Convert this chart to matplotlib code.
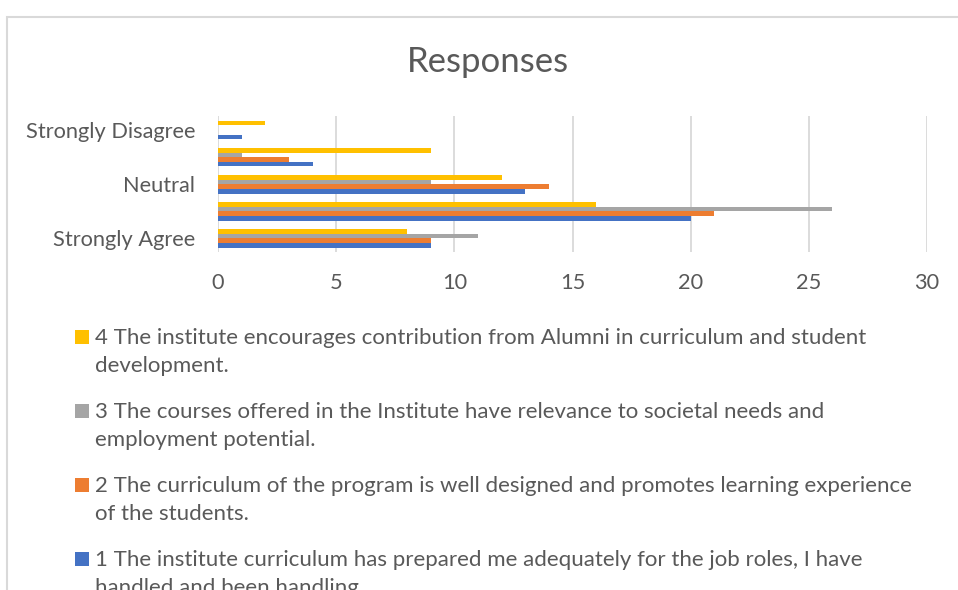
import numpy as np
import matplotlib.pyplot as plt
from matplotlib.patches import Rectangle

plt.rcParams['font.family'] = ['Lato', 'DejaVu Sans']

# data
categories = ['Strongly Agree', 'Agree', 'Neutral', 'Disagree', 'Strongly Disagree']
tick_labels = ['Strongly Agree', '', 'Neutral', '', 'Strongly Disagree']
q1 = [9, 20, 13, 4, 1]
q2 = [9, 21, 14, 3, 0]
q3 = [11, 26, 9, 1, 0]
q4 = [8, 16, 12, 9, 2]
series_names = [
    '1 The institute curriculum has prepared me adequately for the job roles, I have\nhandled and been handling.',
    '2 The curriculum of the program is well designed and promotes learning experience\nof the students.',
    '3 The courses offered in the Institute have relevance to societal needs and\nemployment potential.',
    '4 The institute encourages contribution from Alumni in curriculum and student\ndevelopment.',
]
colors = ['#4472C4', '#ED7D31', '#A5A5A5', '#FFC000']
txt = '#595959'

W, H = 958, 590
fig = plt.figure(figsize=(W/100, H/100), dpi=100)
ax = fig.add_axes([218/W, 1-252/H, (927-218)/W, (252-116.5)/H])

# chart border
fig.add_artist(Rectangle((7/W, -0.1), 1.2, 1.1-17/H, transform=fig.transFigure,
                         fill=False, edgecolor='#D9D9D9', linewidth=1.5))

y = np.arange(len(categories))
h = 0.171
bars = []
for i, vals in enumerate([q1, q2, q3, q4]):
    b = ax.barh(y + (i - 1.5) * h, vals, height=h, color=colors[i], zorder=3)
    bars.append(b)

ax.set_xlim(0, 30)
ax.set_ylim(-0.5, 4.5)
ax.set_xticks(range(0, 31, 5))
ax.set_yticks(y)
ax.set_yticklabels(tick_labels)
ax.tick_params(length=0, labelsize=15.7, colors=txt)
ax.tick_params(axis='x', pad=15)
ax.tick_params(axis='y', pad=16.5)
for s in ax.spines.values():
    s.set_visible(False)
ax.grid(axis='x', color='#D9D9D9', linewidth=1.3, zorder=0)

fig.text(488/W, 1-62/H, 'Responses', ha='center', va='center', fontsize=25, color=txt)

# legend (hand placed, square sits on the first line like Excel does)
for k, i in enumerate([3, 2, 1, 0]):
    base = 344 + 74 * k
    fig.add_artist(Rectangle((75/W, 1-base/H), 14/W, 14/H, transform=fig.transFigure,
                             color=colors[i], linewidth=0))
    for j, line in enumerate(series_names[i].split('\n')):
        fig.text(95/W, 1-(base + 28*j)/H, line, ha='left', va='baseline',
                 fontsize=16, color=txt)

fig.savefig('out.png', dpi=100)
